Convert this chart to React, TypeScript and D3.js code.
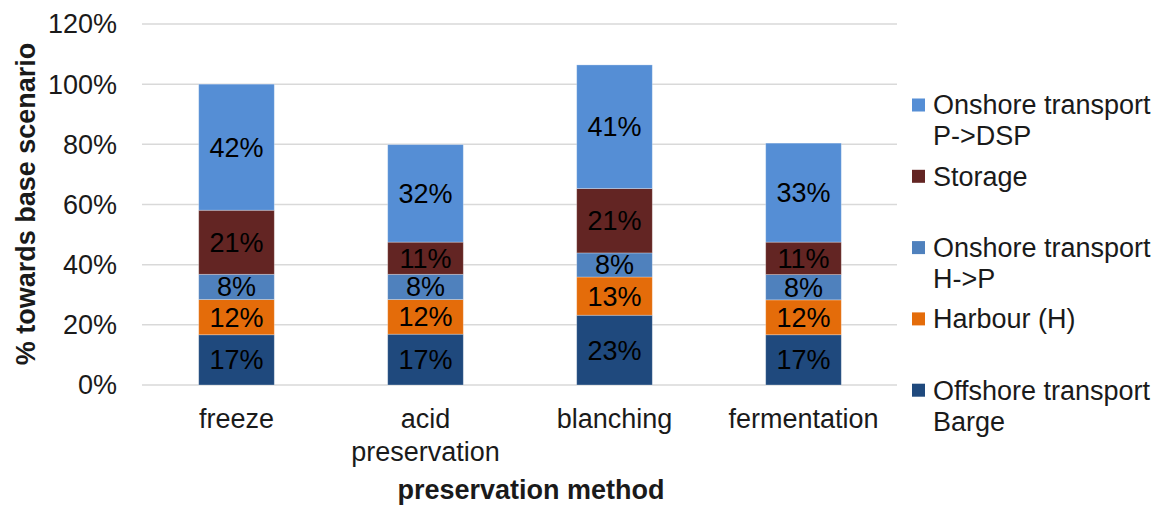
import React from "react";
import * as d3 from "d3";

const categories = ["freeze", "acid preservation", "blanching", "fermentation"];
const categoryLines = [["freeze"], ["acid", "preservation"], ["blanching"], ["fermentation"]];

const seriesNames = [
  "Offshore transport Barge",
  "Harbour (H)",
  "Onshore transport H->P",
  "Storage",
  "Onshore transport P->DSP",
];
const legendLines = [
  ["Onshore transport", "P->DSP"],
  ["Storage"],
  ["Onshore transport", "H->P"],
  ["Harbour (H)"],
  ["Offshore transport", "Barge"],
];
const legendColorIndex = [4, 3, 2, 1, 0];

const offshoreBarge = [16.7, 16.9, 23.2, 16.7];
const harbour = [11.7, 11.5, 12.7, 11.6];
const onshoreHP = [8.4, 8.4, 8.0, 8.4];
const storage = [21.3, 10.7, 21.4, 10.8];
const onshorePDSP = [41.9, 32.4, 41.1, 32.9];

const seriesValues = [offshoreBarge, harbour, onshoreHP, storage, onshorePDSP];
const seriesColors = ["#1F497D", "#E46C0A", "#4F81BD", "#632523", "#558ED5"];

const yTicks = [0, 20, 40, 60, 80, 100, 120];

const W = 1164;
const H = 506;
const FONT = "'Liberation Sans', Arial, sans-serif";

export default function App() {
  const x = d3
    .scaleBand<string>()
    .domain(categories)
    .range([142, 898])
    .paddingInner(0.6)
    .paddingOuter(0.3);
  const y = d3.scaleLinear().domain([0, 120]).range([385, 24]);

  const rows = categories.map((c, i) => {
    const r: any = { cat: c };
    seriesNames.forEach((s, k) => (r[s] = seriesValues[k][i]));
    return r;
  });
  const stacked = d3.stack<any>().keys(seriesNames)(rows);

  return (
    <div style={{ position: "absolute", left: 0, top: 0 }}>
      <svg width={W} height={H} style={{ display: "block", background: "#fff" }} fontFamily={FONT}>
        {yTicks.map((t) => (
          <g key={t}>
            <line x1={142} x2={897} y1={y(t)} y2={y(t)} stroke="#d9d9d9" strokeWidth={1.5} />
            <text x={117} y={y(t)} dy="0.35em" textAnchor="end" fontSize={27} fill="#1a1a1a">
              {t}%
            </text>
          </g>
        ))}

        {stacked.map((layer, k) => (
          <g key={layer.key}>
            {layer.map((d, i) => {
              const x0 = x(categories[i])!;
              const y0 = y(d[1]);
              const h = y(d[0]) - y(d[1]);
              return (
                <g key={i}>
                  <rect
                    x={x0}
                    y={y0}
                    width={x.bandwidth()}
                    height={h}
                    fill={seriesColors[k]}
                    stroke="rgba(255,255,255,0.35)"
                    strokeWidth={0.8}
                  />
                  <text
                    x={x0 + x.bandwidth() / 2}
                    y={y0 + h / 2}
                    dy="0.35em"
                    textAnchor="middle"
                    fontSize={27}
                    fill="#000"
                  >
                    {Math.round(seriesValues[k][i])}%
                  </text>
                </g>
              );
            })}
          </g>
        ))}

        {categoryLines.map((lines, i) => (
          <text
            key={i}
            x={x(categories[i])! + x.bandwidth() / 2}
            y={428}
            textAnchor="middle"
            fontSize={27}
            fill="#1a1a1a"
          >
            {lines.map((l, j) => (
              <tspan key={j} x={x(categories[i])! + x.bandwidth() / 2} dy={j === 0 ? 0 : 33}>
                {l}
              </tspan>
            ))}
          </text>
        ))}

        <text x={531} y={499} textAnchor="middle" fontSize={27} fontWeight="bold" fill="#1a1a1a">
          preservation method
        </text>
        <text
          transform={`translate(35, 204) rotate(-90)`}
          textAnchor="middle"
          fontSize={27}
          fontWeight="bold"
          fill="#1a1a1a"
        >
          % towards base scenario
        </text>

        {legendLines.map((lines, i) => {
          const cy = 105 + i * 71.3;
          return (
            <g key={i}>
              <rect x={912} y={cy - 6.5} width={13} height={13} fill={seriesColors[legendColorIndex[i]]} />
              <text x={933} y={cy} fontSize={27} fill="#1a1a1a">
                {lines.map((l, j) => (
                  <tspan key={j} x={933} dy={j === 0 ? "0.35em" : 31}>
                    {l}
                  </tspan>
                ))}
              </text>
            </g>
          );
        })}
      </svg>
    </div>
  );
}
